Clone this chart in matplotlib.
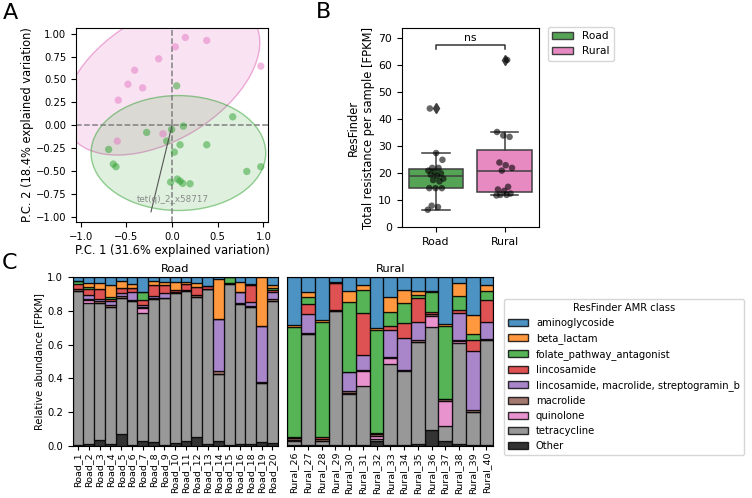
import numpy as np
import matplotlib
matplotlib.use("Agg")
import matplotlib.pyplot as plt
from matplotlib.patches import Ellipse, Patch

plt.rcParams['font.family'] = ['DejaVu Sans']
plt.rcParams['font.size'] = 7.2

# ---------------- Panel A data (PCA) ----------------
rural_pc1 = [0.146, 0.380, 0.036, -0.146, -0.409, -0.482, -0.321, -0.588, 0.971, -0.599, -0.099]
rural_pc2 = [0.957, 0.924, 0.855, 0.725, 0.601, 0.449, 0.409, 0.275, 0.645, -0.170, -0.091]
road_pc1 = [0.051, 0.664, 0.124, -0.004, -0.277, -0.058, 0.088, 0.380, -0.693, 0.026,
            -0.642, -0.613, 0.818, 0.971, -0.015, 0.058, 0.088, 0.117, 0.197]
road_pc2 = [0.431, 0.094, -0.007, -0.043, -0.076, -0.170, -0.210, -0.210, -0.261, -0.290,
            -0.420, -0.449, -0.500, -0.449, -0.616, -0.583, -0.605, -0.630, -0.634]
loading_name = "tet(q)_2_x58717"
loading_vec = [-0.23, -0.94]

# ---------------- Panel B data ----------------
road_total = [6.5, 7.5, 8, 14.5, 14.5, 14.5, 17, 17.5, 18, 19, 19.5, 20, 20.5, 21, 22, 22, 25, 27.5, 44]
rural_total = [11.8, 12, 12, 12.5, 13.5, 14, 15, 21, 22, 23, 24, 33.5, 34, 35.3, 62]

# ---------------- Panel C data ----------------
classes = ["aminoglycoside", "beta_lactam", "folate_pathway_antagonist", "lincosamide",
           "lincosamide, macrolide, streptogramin_b", "macrolide", "quinolone",
           "tetracycline", "Other"]
class_colors = ["tab:blue", "tab:orange", "tab:green", "tab:red", "tab:purple",
                "tab:brown", "tab:pink", "tab:gray", "black"]

road_samples = ["Road_1", "Road_2", "Road_3", "Road_4", "Road_5", "Road_6", "Road_7", "Road_8",
                "Road_9", "Road_10", "Road_11", "Road_12", "Road_13", "Road_14", "Road_15",
                "Road_16", "Road_18", "Road_19", "Road_20"]
road_other = [0.005, 0.01, 0.035, 0.008, 0.07, 0.005, 0.025, 0.02, 0.005, 0.015, 0.025, 0.05, 0.01, 0.03, 0.005, 0.01, 0.01, 0.02, 0.015]
road_tet = [0.915, 0.84, 0.815, 0.812, 0.805, 0.855, 0.765, 0.85, 0.87, 0.89, 0.895, 0.835, 0.92, 0.395, 0.955, 0.83, 0.815, 0.35, 0.845]
road_quin = [0, 0.015, 0, 0, 0, 0, 0.025, 0, 0, 0, 0, 0, 0, 0, 0, 0, 0, 0, 0]
road_mac = [0.013, 0.005, 0.01, 0.01, 0.012, 0.003, 0.01, 0.005, 0.005, 0.005, 0.003, 0.008, 0.003, 0.02, 0.005, 0.005, 0.005, 0.01, 0.01]
road_lms = [0, 0.025, 0.01, 0.025, 0.02, 0.05, 0.01, 0.015, 0.025, 0, 0, 0, 0, 0.31, 0, 0.065, 0.025, 0.33, 0.04]
road_lin = [0.027, 0.035, 0.06, 0.01, 0.03, 0.025, 0.03, 0.065, 0.05, 0.015, 0.037, 0.052, 0.017, 0, 0, 0, 0.1, 0, 0.015]
road_fol = [0.02, 0.015, 0, 0.015, 0, 0, 0.045, 0, 0, 0, 0, 0, 0, 0, 0.035, 0, 0, 0, 0.01]
road_beta = [0, 0.02, 0.035, 0.07, 0.04, 0.02, 0.005, 0.025, 0.015, 0.05, 0.015, 0.02, 0, 0.235, 0, 0.06, 0.005, 0.29, 0.02]
road_amino = [0.02, 0.035, 0.035, 0.045, 0.023, 0.042, 0.085, 0.02, 0.03, 0.025, 0.025, 0.035, 0.05, 0.01, 0, 0.03, 0.04, 0, 0.045]

rural_samples = ["Rural_26", "Rural_27", "Rural_28", "Rural_29", "Rural_30", "Rural_31", "Rural_32",
                 "Rural_33", "Rural_34", "Rural_35", "Rural_36", "Rural_37", "Rural_38", "Rural_39", "Rural_40"]
rural_other = [0.005, 0.003, 0.005, 0.005, 0.005, 0.002, 0.025, 0.003, 0.002, 0.01, 0.093, 0.025, 0.012, 0.005, 0.005]
rural_tet = [0.025, 0.662, 0.02, 0.795, 0.3, 0.355, 0.015, 0.485, 0.44, 0.605, 0.612, 0.09, 0.6, 0.195, 0.625]
rural_quin = [0.005, 0, 0.005, 0, 0.01, 0.085, 0.015, 0.035, 0.005, 0, 0.065, 0.15, 0.01, 0, 0]
rural_mac = [0.01, 0.005, 0.01, 0.005, 0.01, 0.01, 0.015, 0.002, 0.005, 0.01, 0.01, 0.015, 0.005, 0.01, 0.003]
rural_lms = [0, 0.11, 0, 0, 0.11, 0.085, 0, 0.16, 0.185, 0.11, 0, 0, 0.16, 0.35, 0.1]
rural_lin = [0.005, 0.06, 0.01, 0.16, 0, 0.25, 0.005, 0.025, 0.09, 0.14, 0.015, 0, 0.02, 0.065, 0.135]
rural_fol = [0.655, 0.045, 0.683, 0, 0.42, 0.135, 0.61, 0.085, 0.12, 0.02, 0.115, 0.43, 0.08, 0.04, 0.05]
rural_beta = [0.01, 0.025, 0.012, 0.01, 0.065, 0.035, 0.015, 0.09, 0.075, 0.025, 0.01, 0.015, 0.08, 0.11, 0.037]
rural_amino = [0.285, 0.09, 0.255, 0.025, 0.08, 0.043, 0.3, 0.115, 0.078, 0.08, 0.08, 0.275, 0.033, 0.225, 0.045]

W, H = 752, 498
fig = plt.figure(figsize=(W / 100, H / 100), dpi=100)


def ax_px(l, t, r, b):
    return fig.add_axes([l / W, 1 - b / H, (r - l) / W, (b - t) / H])


green_c = '#2ca02c'
pink_c = '#e377c2'
LAB = 8.3

# ---------------- Panel A ----------------
axA = ax_px(76, 28, 268, 222)
pink_ell = dict(xy=(-0.11, 0.52), width=2 * 1.18, height=2 * 0.68, angle=31)
green_ell = dict(xy=(0.07, -0.30), width=2 * 0.955, height=2 * 0.625, angle=0)
axA.add_patch(Ellipse(**pink_ell, facecolor=pink_c, alpha=0.2, edgecolor='none'))
axA.add_patch(Ellipse(**pink_ell, facecolor='none', edgecolor=pink_c, alpha=0.6, lw=1))
axA.add_patch(Ellipse(**green_ell, facecolor=green_c, alpha=0.15, edgecolor='none'))
axA.add_patch(Ellipse(**green_ell, facecolor='none', edgecolor=green_c, alpha=0.5, lw=1))
axA.scatter(rural_pc1, rural_pc2, s=28, color=pink_c, alpha=0.5, edgecolors='none', zorder=3)
axA.scatter(road_pc1, road_pc2, s=28, color=green_c, alpha=0.5, edgecolors='none', zorder=3)
axA.axhline(0, color='gray', ls='--', lw=1.1, zorder=2)
axA.axvline(0, color='gray', ls='--', lw=1.1, zorder=2)
axA.plot([0, loading_vec[0]], [0, loading_vec[1]], color='#555555', lw=0.8, zorder=4)
axA.text(0.01, -0.81, loading_name, ha='center', va='center', fontsize=6.3, color='gray', alpha=0.9, zorder=5)
axA.set_xlim(-1.05, 1.05)
axA.set_ylim(-1.05, 1.06)
axA.set_xticks([-1.0, -0.5, 0.0, 0.5, 1.0])
axA.set_yticks([-1.0, -0.75, -0.5, -0.25, 0.0, 0.25, 0.5, 0.75, 1.0])
axA.set_yticklabels([f"{v:.2f}".replace('-', '\u2212') for v in axA.get_yticks()])
axA.set_xlabel("P.C. 1 (31.6% explained variation)", labelpad=1.5, fontsize=LAB)
axA.set_ylabel("P.C. 2 (18.4% explained variation)", labelpad=1.5, fontsize=LAB)

# ---------------- Panel B ----------------
axB = ax_px(401.7, 28.3, 539, 227.3)
box_green = '#55a355'
box_pink = '#e68ac1'
edge = '#3f3f3f'
bp = axB.boxplot([road_total, rural_total], positions=[0, 1], widths=0.8, patch_artist=True,
                 whis=1.5,
                 medianprops=dict(color=edge, lw=1.1),
                 whiskerprops=dict(color=edge, lw=1.1),
                 capprops=dict(color=edge, lw=1.1),
                 boxprops=dict(edgecolor=edge, lw=1.1),
                 flierprops=dict(marker='d', markerfacecolor=edge, markeredgecolor=edge, markersize=5))
for patch, c in zip(bp['boxes'], [box_green, box_pink]):
    patch.set_facecolor(c)
for i, vals in enumerate([road_total, rural_total]):
    n = len(vals)
    jit = [((k * 0.6180339) % 1.0 - 0.5) * 0.24 for k in range(n)]
    axB.scatter(np.array(jit) + i, vals, s=22, color='black', alpha=0.6, edgecolors='none', zorder=4)
axB.plot([0, 0, 1, 1], [66, 67.4, 67.4, 66], color='#333333', lw=1.1)
axB.text(0.5, 68.3, "ns", ha='center', va='bottom', fontsize=7.8)
axB.set_xlim(-0.5, 1.5)
axB.set_ylim(0, 73.7)
axB.set_yticks(range(0, 71, 10))
axB.set_xticks([0, 1])
axB.set_xticklabels(["Road", "Rural"])
axB.tick_params(labelsize=7.8)
axB.set_ylabel("ResFinder\nTotal resistance per sample [FPKM]", labelpad=2, fontsize=LAB)
fig.legend(handles=[Patch(facecolor=box_green, edgecolor=edge, label='Road'),
                    Patch(facecolor=box_pink, edgecolor=edge, label='Rural')],
           loc='upper left', bbox_to_anchor=(548 / W, 1 - 27 / H), fontsize=7.6,
           borderaxespad=0, handlelength=2.0)

# ---------------- Panel C ----------------
road_stack = [road_other, road_tet, road_quin, road_mac, road_lms, road_lin, road_fol, road_beta, road_amino]
rural_stack = [rural_other, rural_tet, rural_quin, rural_mac, rural_lms, rural_lin, rural_fol, rural_beta, rural_amino]
stack_colors = class_colors[::-1]

axC1 = ax_px(72.7, 277.3, 277.7, 445.7)
axC2 = ax_px(287.3, 277.3, 493.3, 445.7)
for ax, stack, samples, title in [(axC1, road_stack, road_samples, "Road"),
                                  (axC2, rural_stack, rural_samples, "Rural")]:
    arr = np.array(stack, dtype=float)
    arr = arr / arr.sum(axis=0, keepdims=True)
    x = np.arange(len(samples))
    bottom = np.zeros(len(samples))
    for vals, col in zip(arr, stack_colors):
        ax.bar(x, vals, bottom=bottom, width=1.0, color=col, alpha=0.8, edgecolor='black', linewidth=0.9)
        bottom += vals
    ax.set_xlim(-0.5, len(samples) - 0.5)
    ax.set_ylim(0, 1)
    ax.set_xticks(x)
    ax.set_xticklabels(samples, rotation=90, fontsize=6.8)
    ax.tick_params(axis='x', pad=1.5, length=3)
    ax.set_title(title, fontsize=8.2, pad=4)
axC1.set_yticks([0, 0.2, 0.4, 0.6, 0.8, 1.0])
axC1.set_ylabel("Relative abundance [FPKM]", labelpad=2)
axC2.set_yticks([])

handles = [Patch(facecolor=c, alpha=0.8, edgecolor='black', label=l) for c, l in zip(class_colors, classes)]
fig.legend(handles=handles, title="ResFinder AMR class", loc='upper left',
           bbox_to_anchor=(504 / W, 1 - 299 / H), fontsize=7.2, title_fontsize=7.2,
           borderaxespad=0, handlelength=2.0)

# Panel letters
fig.text(3 / W, 1 - 3 / H, "A", fontsize=16, va='top', ha='left')
fig.text(316 / W, 1 - 2 / H, "B", fontsize=16, va='top', ha='left')
fig.text(2 / W, 1 - 253 / H, "C", fontsize=16, va='top', ha='left')

fig.savefig("out.png", dpi=100)
